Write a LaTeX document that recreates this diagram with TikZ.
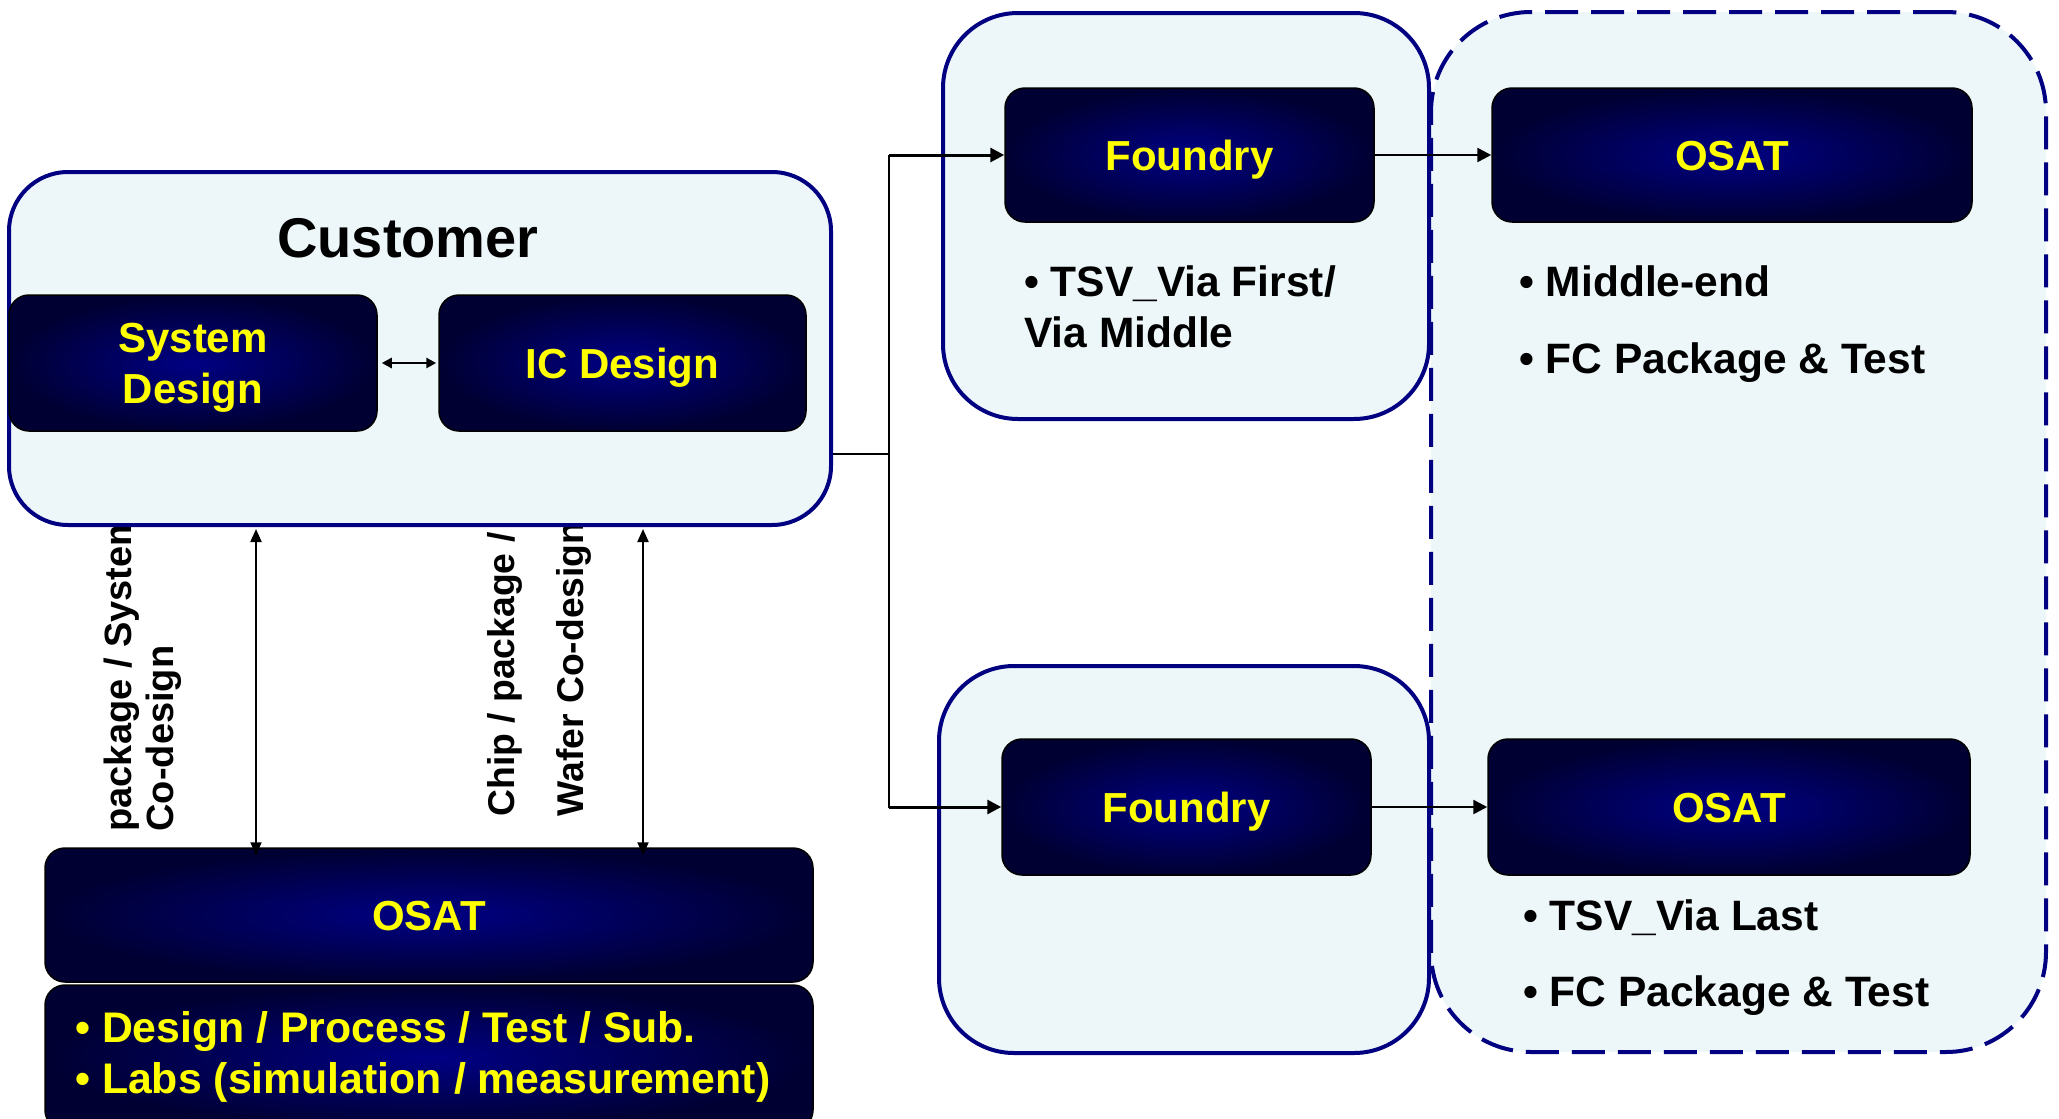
\documentclass[tikz,border=0pt]{standalone}
\usepackage{fontspec}
\setmainfont{Liberation Sans}
\usetikzlibrary{arrows.meta}
\definecolor{lightbg}{RGB}{237,246,249}
\definecolor{navyline}{RGB}{0,0,128}
\definecolor{boxin}{RGB}{0,0,132}
\definecolor{boxout}{RGB}{0,0,50}
\definecolor{ylw}{RGB}{255,255,0}
\begin{document}
\begin{tikzpicture}[x=1pt,y=-1pt,
  outerbox/.style={draw=navyline, line width=4pt, fill=lightbg, rounded corners=#1, inner sep=0pt},
  dashbox/.style={outerbox=#1, dash pattern=on 33pt off 13pt},
  darkbox/.style={draw=black, line width=1.5pt, rounded corners=20pt, inner color=boxin, outer color=boxout,
    text=ylw, font=\fontsize{42}{51}\selectfont\bfseries, align=center, inner sep=0pt,
    text height=30pt, text depth=0pt},
  ytxt/.style={text=ylw, font=\fontsize{42}{51}\selectfont\bfseries, align=center, inner sep=0pt},
  bultxt/.style={font=\fontsize{42.5}{51}\selectfont\bfseries, anchor=base west, inner sep=0pt},
  yblt/.style={font=\fontsize{42.8}{51}\selectfont\bfseries, anchor=base west, inner sep=0pt, text=ylw},
  vlbl/.style 2 args={rotate=90, align=left, inner sep=0pt, font=\fontsize{#1}{#2}\selectfont\bfseries},
  arr/.style={-{Triangle[length=14pt,width=14pt]}, line width=3pt},
  conn/.style={line width=2pt},
  dbl/.style={{Triangle[length=13pt,width=11pt]}-{Triangle[length=13pt,width=11pt]}, line width=2pt}
]
\useasboundingbox (0,0) rectangle (2059,1119);
\clip (0,0) rectangle (2059,1119);

% rotated labels (behind customer box)
\node[vlbl={38}{42}] (lblA) at (143,672) {package / System\\Co-design};
\node[vlbl={37.3}{69}] (lblB) at (539,669) {Chip / package /\\Wafer Co-design};

% Customer
\node[outerbox=59pt, minimum width=822pt, minimum height=353pt] (cust) at (420,348.5) {};
\node[font=\fontsize{56}{60}\selectfont\bfseries, anchor=base, inner sep=0pt] (custt) at (408,257) {Customer};
\node[darkbox, minimum width=368pt, minimum height=136pt] (sys) at (193,363) {};
\node[ytxt] (syst) at ([yshift=-5pt]sys.center) {System\\Design};
\node[darkbox, minimum width=367pt, minimum height=136pt] (ic) at (622.5,363) {IC Design};
\draw[{Triangle[length=10pt,width=10pt]}-{Triangle[length=10pt,width=10pt]}, line width=2.5pt, shorten <=4pt, shorten >=2pt] (sys.east) -- (ic.west);

% Right side outer boxes
\node[dashbox=100pt, minimum width=615pt, minimum height=1040pt] (osatgrp) at (1738.5,532) {};
\node[outerbox=75pt, minimum width=486pt, minimum height=406pt] (f1box) at (1186,216) {};
\node[outerbox=75pt, minimum width=490pt, minimum height=387pt] (f2box) at (1184,859.5) {};

\node[darkbox, minimum width=369pt, minimum height=134pt] (f1) at (1189.5,155) {Foundry};
\node[darkbox, minimum width=480pt, minimum height=134pt] (o1) at (1732,155) {OSAT};
\node[darkbox, minimum width=369pt, minimum height=136pt] (f2) at (1186.5,807) {Foundry};
\node[darkbox, minimum width=482pt, minimum height=136pt] (o2) at (1729,807) {OSAT};

\node[bultxt] (t1a) at (1024,296) {• TSV\_Via First/};
\node[bultxt] (t1b) at (1024,347) {Via Middle};
\node[bultxt] (t2a) at (1519,296) {• Middle-end};
\node[bultxt] (t2b) at (1519,373) {• FC Package \& Test};
\node[bultxt] (t3a) at (1523,930) {• TSV\_Via Last};
\node[bultxt] (t3b) at (1523,1006) {• FC Package \& Test};

% Bottom OSAT
\node[darkbox, minimum width=768pt, minimum height=134pt] (osatb) at (429,915) {OSAT};
\node[darkbox, minimum width=768pt, minimum height=145pt] (osatl) at (429,1057.5) {};
\node[yblt] (b1) at (75,1042) {• Design / Process / Test / Sub.};
\node[yblt] (b2) at (75,1093) {• Labs (simulation / measurement)};

% connectors
\coordinate (j) at (889,454);
\draw[conn] (cust.east |- j) -- (j);
\draw[conn] (j) -- (889,155);
\draw[conn] (j) -- (889,808);
\draw[arr] (889,155) -- (f1.west);
\draw[arr] (889,807) -- (f2.west);
\draw[arr, line width=2.5pt] (f1.east) -- (o1.west);
\draw[arr, line width=2.5pt] (f2.east) -- (o2.west);

\coordinate (va) at (256,0);
\coordinate (vb) at (643,0);
\draw[dbl] (cust.south -| va) ++(0,2) -- ([yshift=-8pt]osatb.north -| va);
\draw[dbl] (cust.south -| vb) ++(0,2) -- ([yshift=-8pt]osatb.north -| vb);
\end{tikzpicture}
\end{document}
